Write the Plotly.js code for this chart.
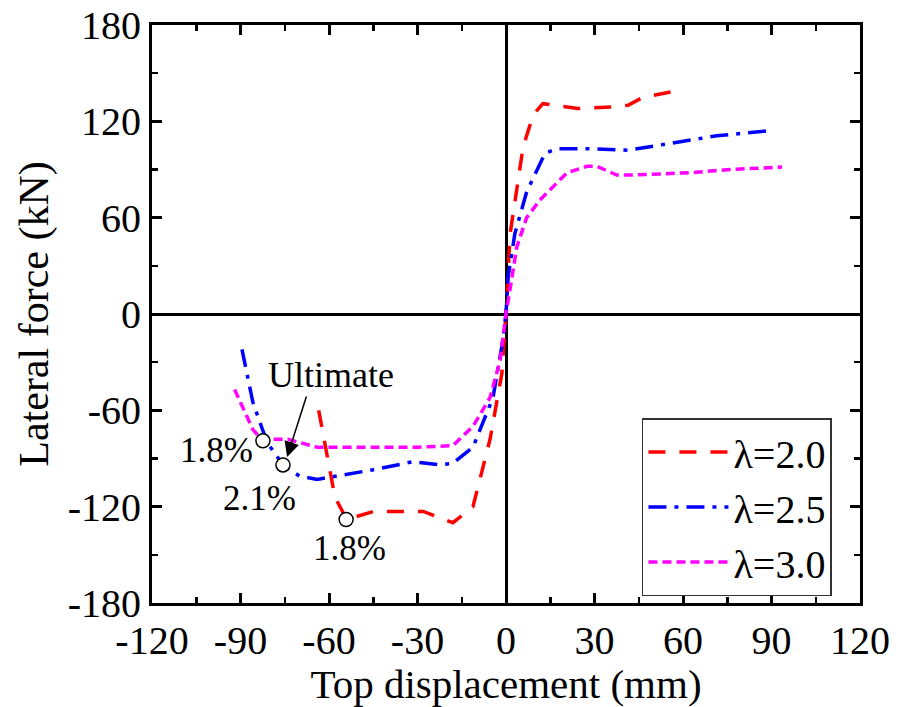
<!DOCTYPE html>
<html>
<head>
<meta charset="utf-8">
<script src="https://cdn.plot.ly/plotly-3.0.1.min.js"></script>
<style>html,body{margin:0;padding:0;background:#fff;}#chart{width:898px;height:707px;}</style>
</head>
<body>
<div id="chart"></div>
<script>
// λ=2.0 envelope
const x20 = [-63.5, -58, -54, -52, -45, -28, -18, -11.2, -5.4, -1.4, 0, 1.4, 2.4, 5.8, 9.2, 12.5, 24.4, 36.3, 41.4, 46.4, 58];
const y20 = [-60, -114, -128, -127, -123, -123, -130, -120, -78, -37, 0, 50, 63, 104, 124, 131, 128, 129, 130, 135, 139];
// λ=2.5 envelope
const x25 = [-89.5, -85.8, -81, -75.6, -70, -64, -45, -31.5, -22.4, -18, -11.2, -4.4, -1.4, 0, 0.7, 3, 7, 13.2, 17.3, 27.5, 41.4, 55.6, 71.5, 88.5];
const y25 = [-22, -55, -80, -94, -101, -103, -97, -92, -94, -93, -83, -52, -20, 0, 23, 50, 76, 100, 103, 103, 102, 106, 111, 114];
// λ=3.0 envelope
const x30 = [-92, -85.8, -82.4, -79, -74, -64, -56, -30, -18, -11.2, -5.4, -2, 0, 1.4, 3.7, 7, 11.5, 20.7, 27.5, 30.8, 37.6, 42, 62.4, 76, 93.6];
const y30 = [-47, -72, -79, -78, -78, -83, -83, -83, -82, -70, -52, -29, 0, 17, 42, 60, 71, 88, 92, 92, 86.5, 86.5, 88, 90, 91.5];
// ultimate points
const ultX = [-82.4, -75.6, -54.2];
const ultY = [-79, -94, -128];
const ultLabels = ["1.8%", "2.1%", "1.8%"];
const seriesNames = ["λ=2.0", "λ=2.5", "λ=3.0"];
// tick labels
const xTickVals = [-120, -90, -60, -30, 0, 30, 60, 90, 120];
const xTickText = ["-120", "-90", "-60", "-30", "0", "30", "60", "90", "120"];
const yTickVals = [-180, -120, -60, 0, 60, 120, 180];
const yTickText = ["-180", "-120", "-60", "0", "60", "120", "180"];

const font = "Liberation Serif";

const traces = [
  {x: x20, y: y20, name: seriesNames[0], mode: 'lines',
   line: {color: '#ff0000', width: 3.5, dash: '17px,14px'}},
  {x: x25, y: y25, name: seriesNames[1], mode: 'lines',
   line: {color: '#0000ff', width: 3.5, dash: '18px,8px,4px,8px'}},
  {x: x30, y: y30, name: seriesNames[2], mode: 'lines',
   line: {color: '#ff00ff', width: 3.5, dash: '9px,5px'}},
  {x: ultX, y: ultY, mode: 'markers', showlegend: false, hoverinfo: 'skip',
   marker: {symbol: 'circle', size: 14, color: '#ffffff', line: {color: '#000', width: 1.5}}}
];

function axisCommon() {
  return {
    showgrid: false, showline: true, linecolor: '#000', linewidth: 3, mirror: 'allticks',
    ticks: 'inside', ticklen: 10, tickwidth: 3, tickcolor: '#000',
    zeroline: true, zerolinecolor: '#000', zerolinewidth: 3,
    tickfont: {family: font, size: 40, color: '#000'}
  };
}

const layout = {
  width: 898, height: 707,
  margin: {l: 152, r: 38, t: 25, b: 104},
  paper_bgcolor: '#fff', plot_bgcolor: '#fff',
  font: {family: font, color: '#000'},
  showlegend: true,
  xaxis: Object.assign(axisCommon(), {
    range: [-120, 120], tickmode: 'array', tickvals: xTickVals, ticktext: xTickText,
    minor: {dtick: 15, tick0: 0, ticks: 'inside', ticklen: 6, tickwidth: 2.5, tickcolor: '#000'},
    title: {text: 'Top displacement (mm)', font: {family: font, size: 41, color: '#000'}, standoff: 4}
  }),
  yaxis: Object.assign(axisCommon(), {
    range: [-180, 180], tickmode: 'array', tickvals: yTickVals, ticktext: yTickText,
    minor: {dtick: 30, tick0: 0, ticks: 'inside', ticklen: 6, tickwidth: 2.5, tickcolor: '#000'},
    title: {text: 'Lateral force (kN)', font: {family: font, size: 42, color: '#000'}, standoff: 6}
  }),
  legend: {
    x: 0.692, y: 0.32, xanchor: 'left', yanchor: 'top',
    bgcolor: '#fff', bordercolor: '#333', borderwidth: 1.5,
    font: {family: font, size: 40, color: '#000'},
    itemwidth: 80
  },
  annotations: [
    {x: -74.2, y: -89, xref: 'x', yref: 'y', ax: -67.5, ay: -50.5, axref: 'x', ayref: 'y',
     showarrow: true, arrowhead: 2, arrowsize: 2, arrowwidth: 1.5, arrowcolor: '#000', text: ''},
    {x: -59.3, y: -38, xref: 'x', yref: 'y', text: 'Ultimate', showarrow: false,
     font: {family: font, size: 36, color: '#000'}},
    {x: -98.3, y: -85, xref: 'x', yref: 'y', text: ultLabels[0], showarrow: false,
     font: {family: font, size: 35, color: '#000'}},
    {x: -83.4, y: -115, xref: 'x', yref: 'y', text: ultLabels[1], showarrow: false,
     font: {family: font, size: 35, color: '#000'}},
    {x: -53.2, y: -146, xref: 'x', yref: 'y', text: ultLabels[2], showarrow: false,
     font: {family: font, size: 35, color: '#000'}}
  ]
};

Plotly.newPlot('chart', traces, layout, {displayModeBar: false, staticPlot: true});
</script>
</body>
</html>
